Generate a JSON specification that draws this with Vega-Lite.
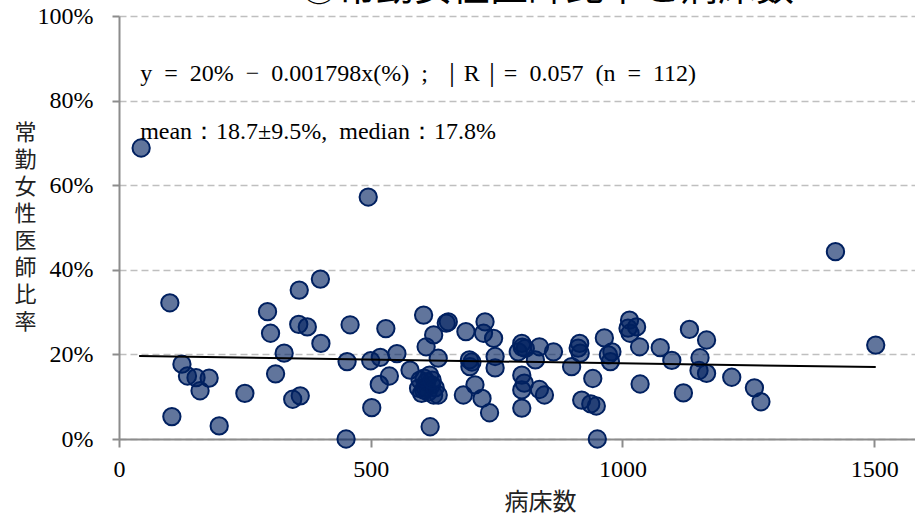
{
  "$schema": "https://vega.github.io/schema/vega-lite/v6.json",
  "width": 796,
  "height": 423,
  "autosize": {"type": "none"},
  "padding": {"left": 119, "top": 16, "right": 0, "bottom": 78},
  "background": "white",
  "config": {"view": {"stroke": null}},
  "datasets": {
    "points": [
      {"beds": 44, "ratio": 68.8}, {"beds": 101, "ratio": 32.2}, {"beds": 125, "ratio": 17.7}, {"beds": 136, "ratio": 14.9},
      {"beds": 153, "ratio": 14.5}, {"beds": 179, "ratio": 14.4}, {"beds": 161, "ratio": 11.4}, {"beds": 105, "ratio": 5.3},
      {"beds": 199, "ratio": 3.1}, {"beds": 250, "ratio": 10.8}, {"beds": 295, "ratio": 30.1}, {"beds": 301, "ratio": 25.0},
      {"beds": 358, "ratio": 35.2}, {"beds": 400, "ratio": 37.8}, {"beds": 357, "ratio": 27.1}, {"beds": 374, "ratio": 26.5},
      {"beds": 401, "ratio": 22.6}, {"beds": 328, "ratio": 20.3}, {"beds": 311, "ratio": 15.4}, {"beds": 345, "ratio": 9.4},
      {"beds": 360, "ratio": 10.2}, {"beds": 459, "ratio": 27.0}, {"beds": 453, "ratio": 18.3}, {"beds": 451, "ratio": 0.0},
      {"beds": 502, "ratio": 7.4}, {"beds": 530, "ratio": 26.1}, {"beds": 500, "ratio": 18.5}, {"beds": 519, "ratio": 19.3},
      {"beds": 517, "ratio": 12.9}, {"beds": 537, "ratio": 14.9}, {"beds": 552, "ratio": 20.2}, {"beds": 578, "ratio": 16.3},
      {"beds": 605, "ratio": 29.3}, {"beds": 625, "ratio": 24.6}, {"beds": 654, "ratio": 27.7}, {"beds": 650, "ratio": 27.4},
      {"beds": 610, "ratio": 21.8}, {"beds": 634, "ratio": 19.1}, {"beds": 598, "ratio": 13.9}, {"beds": 611, "ratio": 13.5},
      {"beds": 605, "ratio": 11.6}, {"beds": 621, "ratio": 12.8}, {"beds": 625, "ratio": 10.4}, {"beds": 634, "ratio": 10.4},
      {"beds": 601, "ratio": 10.8}, {"beds": 617, "ratio": 15.1}, {"beds": 595, "ratio": 12.0}, {"beds": 618, "ratio": 2.9},
      {"beds": 689, "ratio": 25.4}, {"beds": 696, "ratio": 18.7}, {"beds": 697, "ratio": 17.1}, {"beds": 684, "ratio": 10.4},
      {"beds": 707, "ratio": 12.8}, {"beds": 721, "ratio": 9.6}, {"beds": 736, "ratio": 6.2}, {"beds": 727, "ratio": 27.7},
      {"beds": 724, "ratio": 25.0}, {"beds": 744, "ratio": 23.8}, {"beds": 747, "ratio": 19.5}, {"beds": 747, "ratio": 16.8},
      {"beds": 800, "ratio": 22.6}, {"beds": 807, "ratio": 21.4}, {"beds": 793, "ratio": 20.6}, {"beds": 835, "ratio": 21.8},
      {"beds": 827, "ratio": 18.7}, {"beds": 863, "ratio": 20.6}, {"beds": 800, "ratio": 15.1}, {"beds": 805, "ratio": 13.2},
      {"beds": 800, "ratio": 11.6}, {"beds": 800, "ratio": 7.3}, {"beds": 835, "ratio": 11.7}, {"beds": 845, "ratio": 10.4},
      {"beds": 915, "ratio": 22.6}, {"beds": 916, "ratio": 20.3}, {"beds": 912, "ratio": 21.5}, {"beds": 899, "ratio": 17.1},
      {"beds": 941, "ratio": 14.3}, {"beds": 919, "ratio": 9.2}, {"beds": 937, "ratio": 8.3}, {"beds": 948, "ratio": 7.8},
      {"beds": 950, "ratio": 0.0}, {"beds": 964, "ratio": 23.9}, {"beds": 979, "ratio": 20.6}, {"beds": 976, "ratio": 18.3},
      {"beds": 972, "ratio": 19.9}, {"beds": 1014, "ratio": 28.1}, {"beds": 1028, "ratio": 26.5}, {"beds": 1015, "ratio": 25.0},
      {"beds": 1011, "ratio": 26.2}, {"beds": 1034, "ratio": 21.8}, {"beds": 1035, "ratio": 13.0}, {"beds": 1075, "ratio": 21.6},
      {"beds": 1098, "ratio": 18.6}, {"beds": 1133, "ratio": 25.9}, {"beds": 1167, "ratio": 23.4}, {"beds": 1154, "ratio": 19.2},
      {"beds": 1152, "ratio": 16.2}, {"beds": 1167, "ratio": 15.5}, {"beds": 1121, "ratio": 10.9}, {"beds": 1217, "ratio": 14.6},
      {"beds": 1262, "ratio": 12.1}, {"beds": 1275, "ratio": 8.8}, {"beds": 1503, "ratio": 22.2}, {"beds": 1423, "ratio": 44.3},
      {"beds": 495, "ratio": 57.2}, {"beds": 608, "ratio": 12.1}, {"beds": 614, "ratio": 11.1}, {"beds": 628, "ratio": 12.1},
      {"beds": 606, "ratio": 14.4}, {"beds": 622, "ratio": 13.9}, {"beds": 701, "ratio": 18.2}, {"beds": 801, "ratio": 21.7}
    ],
    "trend": [
      {"beds": 40, "ratio": 19.6},
      {"beds": 1503, "ratio": 17.0}
    ],
    "notes": [
      {"beds": 42, "ratio": 86.2, "label": "y\u2002=\u200220%\u2002−\u20020.001798x(%)\u2002;\u2002｜R｜=\u20020.057\u2002(n\u2002=\u2002112)"},
      {"beds": 42, "ratio": 72.6, "label": "mean：18.7±9.5%,\u2002median：17.8%"}
    ],
    "heading": [
      {"beds": 850, "ratio": 103.9, "label": "③常勤女性医師比率と病床数"}
    ]
  },
  "layer": [
    {
      "data": {"name": "points"},
      "mark": {"type": "circle", "size": 300, "fill": "#002060", "fillOpacity": 0.62, "stroke": "#002060", "strokeWidth": 2, "opacity": 1},
      "encoding": {
        "x": {
          "field": "beds", "type": "quantitative",
          "scale": {"domain": [0, 1581], "nice": false, "zero": false},
          "axis": {
            "values": [0, 500, 1000, 1500], "format": "d", "grid": false,
            "domainColor": "#8c8c8c", "domainWidth": 2, "tickColor": "#8c8c8c", "tickWidth": 2, "tickSize": 8,
            "labelFont": "Liberation Serif", "labelFontSize": 24, "labelColor": "black", "labelPadding": 10,
            "labelFlush": false, "labelOverlap": false,
            "title": "病床数", "titleFont": "Noto Sans CJK JP", "titleFontSize": 24, "titleFontWeight": "normal", "titleColor": "#222222",
            "titleX": 421, "titleY": 63, "titleAlign": "center", "titleBaseline": "middle", "titleAnchor": null
          }
        },
        "y": {
          "field": "ratio", "type": "quantitative",
          "scale": {"domain": [0, 100], "nice": false},
          "axis": {
            "values": [0, 20, 40, 60, 80, 100], "labelExpr": "datum.value + '%'",
            "grid": true, "gridDash": [7, 4], "gridColor": "#bfbfbf", "gridWidth": 1.5,
            "domainColor": "#8c8c8c", "domainWidth": 2, "tickColor": "#8c8c8c", "tickWidth": 2, "tickSize": 7,
            "labelFont": "Liberation Serif", "labelFontSize": 24, "labelColor": "black", "labelPadding": 19,
            "labelFlush": false, "labelOverlap": false,
            "title": ["常", "勤", "女", "性", "医", "師", "比", "率"],
            "titleFont": "Noto Sans CJK JP", "titleFontSize": 22, "titleFontWeight": "normal", "titleColor": "#222222",
            "titleAngle": 0, "titleX": -94, "titleY": 116, "titleAlign": "center", "titleBaseline": "middle", "titleLineHeight": 27
          }
        }
      }
    },
    {
      "data": {"name": "trend"},
      "mark": {"type": "line", "color": "black", "strokeWidth": 2},
      "encoding": {
        "x": {"field": "beds", "type": "quantitative"},
        "y": {"field": "ratio", "type": "quantitative"}
      }
    },
    {
      "data": {"name": "notes"},
      "mark": {"type": "text", "align": "left", "baseline": "middle", "font": "Liberation Serif", "fontSize": 24, "color": "black"},
      "encoding": {
        "x": {"field": "beds", "type": "quantitative"},
        "y": {"field": "ratio", "type": "quantitative"},
        "text": {"field": "label"}
      }
    },
    {
      "data": {"name": "heading"},
      "mark": {"type": "text", "align": "center", "baseline": "alphabetic", "font": "Noto Sans CJK JP", "fontSize": 38, "color": "black"},
      "encoding": {
        "x": {"field": "beds", "type": "quantitative"},
        "y": {"field": "ratio", "type": "quantitative"},
        "text": {"field": "label"}
      }
    }
  ]
}
